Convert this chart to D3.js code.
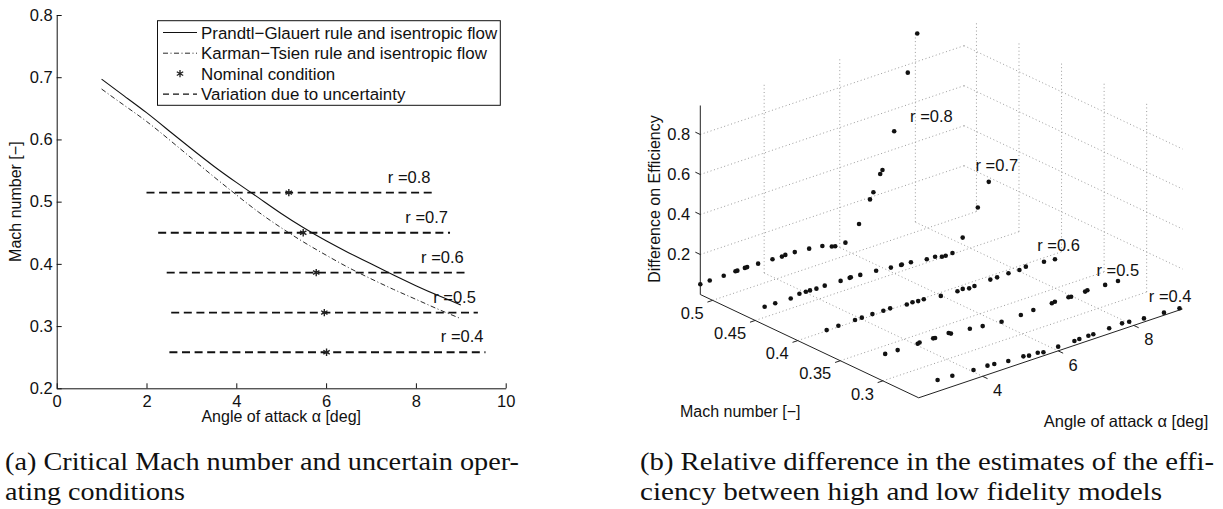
<!DOCTYPE html>
<html>
<head>
<meta charset="utf-8">
<script src="https://cdn.jsdelivr.net/npm/d3@7"></script>
<style>
  body { margin: 0; background: #fff; }
  svg { display: block; }
  text { font-family: "Liberation Sans", Arial, Helvetica, sans-serif; fill: #111; }
  text.cap { font-family: "Liberation Serif", "Times New Roman", serif; }
</style>
</head>
<body>
<svg id="fig" width="1223" height="509"></svg>
<script>
// ---------- (a) critical Mach number curves ----------
const alphaCurve = [1, 1.5, 2, 2.5, 3, 3.5, 4, 4.5, 5, 5.5, 6, 6.5, 7, 7.5, 8, 8.5, 9];
const machPrandtl = [0.697, 0.670, 0.643, 0.614, 0.585, 0.557, 0.531, 0.506, 0.481, 0.458, 0.437, 0.418, 0.400, 0.382, 0.365, 0.349, 0.334];
const machKarman  = [0.681, 0.655, 0.629, 0.600, 0.570, 0.540, 0.511, 0.483, 0.458, 0.435, 0.414, 0.394, 0.376, 0.359, 0.343, 0.327, 0.312];

// operating conditions for each correlation level r
const rLevels      = [0.8, 0.7, 0.6, 0.5, 0.4];
const machNominal  = [0.5145, 0.450, 0.386, 0.3217, 0.2579];
const alphaNominal = [5.17, 5.49, 5.78, 5.96, 6.01];
const alphaLow     = [2.00, 2.26, 2.45, 2.55, 2.51];
const alphaHigh    = [8.37, 8.76, 9.11, 9.38, 9.55];

const xTicksA = [0, 2, 4, 6, 8, 10];
const yTicksA = [0.2, 0.3, 0.4, 0.5, 0.6, 0.7, 0.8];
const legendLabels = ["Prandtl\u2212Glauert rule and isentropic flow", "Karman\u2212Tsien rule and isentropic flow", "Nominal condition", "Variation due to uncertainty"];

// ---------- (b) efficiency difference, one row per r level ----------
const alphaR08 = [2.31, 2.56, 2.93, 3.24, 3.29, 3.49, 3.55, 3.84, 4.22, 4.47, 4.56, 4.81, 5.19, 5.54, 5.79, 5.88, 6.15, 6.51, 6.80, 6.89, 7.07, 7.13, 7.44, 7.80, 8.05];
const diffR08  = [0.051, 0.054, 0.054, 0.057, 0.057, 0.058, 0.058, 0.057, 0.055, 0.052, 0.055, 0.053, 0.046, 0.037, 0.019, 0.014, 0.015, 0.085, 0.19, 0.22, 0.30, 0.316, 0.49, 0.76, 0.94];
const alphaR07 = [2.56, 2.84, 3.25, 3.48, 3.65, 3.76, 3.93, 4.15, 4.57, 4.81, 4.84, 5.09, 5.51, 5.90, 6.17, 6.19, 6.43, 6.85, 7.07, 7.25, 7.35, 7.53, 7.80, 8.20, 8.49];
const diffR07  = [0.053, 0.052, 0.050, 0.059, 0.058, 0.058, 0.056, 0.057, 0.054, 0.054, 0.055, 0.051, 0.045, 0.036, 0.032, 0.033, 0.029, 0.017, 0.016, 0.004, 0.003, 0.005, 0.065, 0.19, 0.30];
const alphaR06 = [2.76, 3.07, 3.51, 3.69, 3.97, 4.26, 4.44, 4.88, 5.03, 5.18, 5.33, 5.78, 6.22, 6.36, 6.53, 6.67, 7.09, 7.27, 7.57, 7.86, 8.03, 8.51, 8.80];
const diffR06  = [0.052, 0.054, 0.055, 0.055, 0.055, 0.053, 0.054, 0.045, 0.047, 0.043, 0.043, 0.031, 0.026, 0.029, 0.021, 0.024, 0.029, 0.029, 0.030, 0.028, 0.034, 0.028, 0.022];
const alphaR05 = [2.86, 3.19, 3.72, 3.77, 4.13, 4.18, 4.54, 4.60, 5.10, 5.44, 5.94, 6.45, 6.78, 7.27, 7.35, 7.71, 7.78, 8.15, 8.21, 8.68, 9.02];
const diffR05  = [0.056, 0.054, 0.052, 0.055, 0.053, 0.052, 0.054, 0.047, 0.039, 0.031, 0.021, 0.022, 0.026, 0.029, 0.031, 0.031, 0.029, 0.031, 0.034, 0.031, 0.029];
const alphaR04 = [2.81, 3.20, 3.76, 4.13, 4.31, 4.68, 5.08, 5.23, 5.46, 5.61, 6.00, 6.43, 6.56, 6.80, 6.93, 7.35, 7.69, 7.88, 8.27, 8.80, 9.21];
const diffR04  = [0.057, 0.054, 0.047, 0.045, 0.042, 0.033, 0.031, 0.025, 0.025, 0.018, 0.021, 0.022, 0.024, 0.025, 0.024, 0.027, 0.030, 0.026, 0.018, 0.013, 0.009];

// where each "r =" tag sits in (alpha, difference) space
const tagAlpha = [7.86, 8.14, 8.33, 8.45, 8.40];
const tagDiff  = [0.536, 0.403, 0.12, 0.12, 0.118];

const alphaTicksB = [4, 6, 8];
const machTicksB  = [0.5, 0.45, 0.4, 0.35, 0.3];
const diffTicksB  = [0.2, 0.4, 0.6, 0.8];

const svg = d3.select("#fig");

// ================= panel (a) =================
const gA = svg.append("g");
const x = d3.scaleLinear().domain([0, 10]).range([56.7, 505.7]);
const y = d3.scaleLinear().domain([0.2, 0.8]).range([388.3, 15]);

const xAxis = d3.axisBottom(x).tickValues(xTicksA).tickFormat(d3.format("d")).tickSizeInner(-5).tickSizeOuter(0).tickPadding(7);
const yAxis = d3.axisLeft(y).tickValues(yTicksA).tickFormat(d3.format(".1f")).tickSizeInner(-5).tickSizeOuter(0).tickPadding(4);

const gx = gA.append("g").attr("transform", `translate(0,${y(0.2)})`).call(xAxis);
const gy = gA.append("g").attr("transform", `translate(${x(0)},0)`).call(yAxis);
[gx, gy].forEach(g => {
  g.attr("font-family", null);
  g.selectAll("path,line").attr("stroke", "#111").attr("stroke-width", 1);
  g.selectAll("text").style("font-size", "16.5px").attr("fill", "#111");
});

gA.append("text").attr("x", (x(0) + x(10)) / 2).attr("y", 422)
  .attr("text-anchor", "middle").style("font-size", "16px")
  .text("Angle of attack \u03b1 [deg]");
gA.append("text").attr("transform", `translate(21,${(y(0.2) + y(0.8)) / 2}) rotate(-90)`)
  .attr("text-anchor", "middle").style("font-size", "16px")
  .text("Mach number [\u2212]");

const line = d3.line().x(d => x(d[0])).y(d => y(d[1])).curve(d3.curveNatural);
gA.append("path").datum(alphaCurve.map((a, i) => [a, machPrandtl[i]]))
  .attr("d", line).attr("fill", "none").attr("stroke", "#111").attr("stroke-width", 1.1);
gA.append("path").datum(alphaCurve.map((a, i) => [a, machKarman[i]]))
  .attr("d", line).attr("fill", "none").attr("stroke", "#111").attr("stroke-width", 0.9)
  .attr("stroke-dasharray", "5,2.5,1,2.5");

const star = d3.symbol().type(d3.symbolAsterisk).size(38);
rLevels.forEach((r, i) => {
  gA.append("line")
    .attr("x1", x(alphaLow[i])).attr("x2", x(alphaHigh[i]))
    .attr("y1", y(machNominal[i])).attr("y2", y(machNominal[i]))
    .attr("stroke", "#111").attr("stroke-width", 1.9).attr("stroke-dasharray", "8,4.6");
  gA.append("path").attr("d", star)
    .attr("transform", `translate(${x(alphaNominal[i])},${y(machNominal[i])})`)
    .attr("fill", "none").attr("stroke", "#222").attr("stroke-width", 1.4);
  gA.append("text").attr("x", x(alphaHigh[i]) - 2).attr("y", y(machNominal[i]) - 10)
    .attr("text-anchor", "end").style("font-size", "16.5px")
    .text(`r =${r}`);
});

// legend
const lg = gA.append("g");
lg.append("rect").attr("x", 157.5).attr("y", 20.7).attr("width", 342.8).attr("height", 84.6)
  .attr("fill", "#fff").attr("stroke", "#111").attr("stroke-width", 1);
const rowY = [32.5, 53.2, 73.6, 94.2];
legendLabels.forEach((t, i) => {
  const yy = rowY[i];
  if (i === 0) lg.append("line").attr("x1", 163).attr("x2", 197).attr("y1", yy).attr("y2", yy).attr("stroke", "#111").attr("stroke-width", 1.1);
  if (i === 1) lg.append("line").attr("x1", 163).attr("x2", 197).attr("y1", yy).attr("y2", yy).attr("stroke", "#111").attr("stroke-width", 0.9).attr("stroke-dasharray", "5,2.5,1,2.5");
  if (i === 2) lg.append("path").attr("d", star).attr("transform", `translate(180,${yy})`).attr("fill", "none").attr("stroke", "#222").attr("stroke-width", 1.3);
  if (i === 3) lg.append("line").attr("x1", 163).attr("x2", 197).attr("y1", yy).attr("y2", yy).attr("stroke", "#111").attr("stroke-width", 1.2).attr("stroke-dasharray", "6,4");
  lg.append("text").attr("x", 201).attr("y", yy + 6).style("font-size", "16.9px").text(t);
});

// ================= panel (b) =================
const gB = svg.append("g");
// box corners of the 3-D axes on screen
const O3 = { x: 700.3, y: 294.5 };          // alpha min, Mach max, z = 0
const A3 = { x: 263.8, y: -88.8 };          // full alpha span
const M3 = { x: 218.4, y: 103.3 };          // full Mach span (max -> min)
const aS = d3.scaleLinear().domain([2.31, 9.29]).range([0, 1]);
const mS = d3.scaleLinear().domain([0.5145, 0.2579]).range([0, 1]);
const zS = d3.scaleLinear().domain([0, 0.945]).range([0, 189]);
const zTop = zS.domain()[1];
const aMin = aS.domain()[0], aMax = aS.domain()[1];
const mMax = mS.domain()[0], mMin = mS.domain()[1];
function proj(al, M, z) {
  const a = aS(al), m = mS(M);
  return [O3.x + a * A3.x + m * M3.x, O3.y + a * A3.y + m * M3.y - zS(z)];
}
const seg = (p, q) => gB.append("line").attr("x1", p[0]).attr("y1", p[1]).attr("x2", q[0]).attr("y2", q[1]);
const grid = (p, q) => seg(p, q).attr("stroke", "#9c9c9c").attr("stroke-width", 1).attr("stroke-dasharray", "1,2.6");

// grid: back walls and floor
diffTicksB.forEach(z => {
  grid(proj(aMin, mMax, z), proj(aMax, mMax, z));
  grid(proj(aMax, mMax, z), proj(aMax, mMin, z));
});
alphaTicksB.forEach(a => {
  grid(proj(a, mMax, 0), proj(a, mMax, zTop));
  grid(proj(a, mMax, 0), proj(a, mMin, 0));
});
machTicksB.forEach(m => {
  grid(proj(aMax, m, 0), proj(aMax, m, zTop));
  grid(proj(aMin, m, 0), proj(aMax, m, 0));
});

// axis lines
const axisStroke = s => s.attr("stroke", "#222").attr("stroke-width", 1);
axisStroke(seg(proj(aMin, mMax, 0), proj(aMin, mMax, zTop)));
axisStroke(seg(proj(aMin, mMax, 0), proj(aMin, mMin, 0)));
axisStroke(seg(proj(aMin, mMin, 0), proj(aMax, mMin, 0)));

// unit directions for outward tick marks
const mLen = Math.hypot(M3.x, M3.y), aLen = Math.hypot(A3.x, A3.y);
const mDir = [M3.x / mLen, M3.y / mLen], aDir = [A3.x / aLen, A3.y / aLen];
const tk = 5.5;

diffTicksB.forEach(z => {
  const p = proj(aMin, mMax, z);
  axisStroke(seg(p, [p[0] - mDir[0] * tk, p[1] - mDir[1] * tk]));
  gB.append("text").attr("x", p[0] - 10).attr("y", p[1]).attr("dy", "0.35em")
    .attr("text-anchor", "end").style("font-size", "16.5px").text(d3.format(".1f")(z));
});
machTicksB.forEach(m => {
  const p = proj(aMin, m, 0);
  axisStroke(seg(p, [p[0] - aDir[0] * tk, p[1] - aDir[1] * tk]));
  gB.append("text").attr("x", p[0] - 9).attr("y", p[1] + 13).attr("dy", "0.35em")
    .attr("text-anchor", "end").style("font-size", "16.5px").text(String(m));
});
alphaTicksB.forEach(a => {
  const p = proj(a, mMin, 0);
  axisStroke(seg(p, [p[0] + mDir[0] * tk, p[1] + mDir[1] * tk]));
  gB.append("text").attr("x", p[0] + 15).attr("y", p[1] + 14).attr("dy", "0.35em")
    .attr("text-anchor", "middle").style("font-size", "16.5px").text(String(a));
});

gB.append("text").attr("transform", "translate(660,199) rotate(-90)")
  .attr("text-anchor", "middle").style("font-size", "16px").text("Difference on Efficiency");
gB.append("text").attr("x", 680).attr("y", 417).style("font-size", "16px").text("Mach number [\u2212]");
gB.append("text").attr("x", 1126).attr("y", 427).attr("text-anchor", "middle").style("font-size", "16.5px").text("Angle of attack \u03b1 [deg]");

// scatter rows
const rowsB = [
  [alphaR08, diffR08], [alphaR07, diffR07], [alphaR06, diffR06], [alphaR05, diffR05], [alphaR04, diffR04]
];
rowsB.forEach(([al, df], i) => {
  const M = machNominal[i];
  gB.append("g").selectAll("circle").data(al.map((a, j) => proj(a, M, df[j]))).join("circle")
    .attr("cx", d => d[0]).attr("cy", d => d[1]).attr("r", 2.3).attr("fill", "#111");
  const t = proj(tagAlpha[i], M, tagDiff[i]);
  gB.append("text").attr("x", t[0]).attr("y", t[1]).attr("dy", "0.35em")
    .style("font-size", "16.5px").text(`r =${rLevels[i]}`);
});

// ================= captions =================
const caps = [
  { x: 5, y: 470, w: 514, t: "(a) Critical Mach number and uncertain oper-" },
  { x: 5, y: 500, w: 180, t: "ating conditions" },
  { x: 640, y: 470, w: 574, t: "(b) Relative difference in the estimates of the effi-" },
  { x: 640, y: 500, w: 522, t: "ciency between high and low fidelity models" }
];
caps.forEach(c => {
  svg.append("text").attr("class", "cap").attr("x", c.x).attr("y", c.y)
    .attr("textLength", c.w).attr("lengthAdjust", "spacingAndGlyphs")
    .style("font-size", "25px").text(c.t);
});
</script>
</body>
</html>
